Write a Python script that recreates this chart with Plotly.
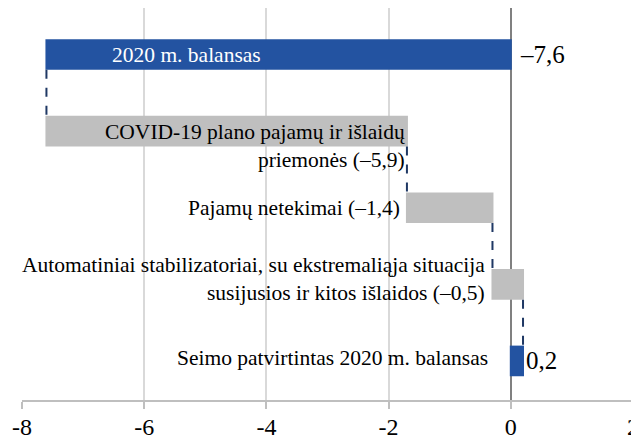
import plotly.graph_objects as go

categories = ["2020 m. balansas",
              "COVID-19 plano pajamų ir išlaidų<br>priemonės (–5,9)",
              "Pajamų netekimai (–1,4)",
              "Automatiniai stabilizatoriai, su ekstremaliąja situacija<br>susijusios ir kitos išlaidos (–0,5)",
              "Seimo patvirtintas 2020 m. balansas"]
values = [-7.6, 5.9, 1.4, 0.5, 0.2]
measures = ["absolute", "relative", "relative", "relative", "total"]
end_labels = ["–7,6", "", "", "", "0,2"]
tick_vals = [-8, -6, -4, -2, 0, 2]

BLUE = "#2353a1"
GRAY = "#bfbfbf"
FONT = "Liberation Serif, Times New Roman, serif"

pos = list(range(len(categories)))

fig = go.Figure(go.Waterfall(
    orientation="h",
    y=pos,
    x=values,
    measure=measures,
    width=0.4,
    totals=dict(marker=dict(color=BLUE)),
    increasing=dict(marker=dict(color=GRAY)),
    decreasing=dict(marker=dict(color=BLUE)),
    connector=dict(mode="between", line=dict(color="#1f3864", width=2, dash="dash")),
    hoverinfo="skip",
))

ends = []
cur = 0
for v, m in zip(values, measures):
    if m == "absolute":
        cur = v
    elif m == "relative":
        cur += v
    ends.append(cur)
starts = [0, ends[0], ends[1], ends[2], 0]

CAT_SIZE = 21.5
annots = []
annots.append(dict(x=-5.30, y=pos[0], text=categories[0], xanchor="center", yanchor="middle",
                   font=dict(color="white", size=CAT_SIZE, family=FONT)))
annots.append(dict(x=ends[1], y=pos[1], text=categories[1], xanchor="right", yanchor="middle",
                   yshift=-15, font=dict(color="black", size=CAT_SIZE, family=FONT), align="right"))
annots.append(dict(x=starts[2], y=pos[2], text=categories[2], xanchor="right", yanchor="middle",
                   xshift=-5, font=dict(color="black", size=CAT_SIZE, family=FONT), align="right"))
annots.append(dict(x=starts[3], y=pos[3], text=categories[3], xanchor="right", yanchor="middle",
                   xshift=-5, yshift=5, font=dict(color="black", size=CAT_SIZE, family=FONT), align="right"))
annots.append(dict(x=0, y=pos[4], text=categories[4], xanchor="right", yanchor="middle",
                   xshift=-21, yshift=3, font=dict(color="black", size=CAT_SIZE, family=FONT), align="right"))
annots.append(dict(x=0, y=pos[0], text=end_labels[0], xanchor="left", yanchor="middle",
                   xshift=7, font=dict(color="black", size=25, family=FONT)))
annots.append(dict(x=0.2, y=pos[4], text=end_labels[4], xanchor="left", yanchor="middle",
                   xshift=1, font=dict(color="black", size=25, family=FONT)))
for a in annots:
    a.update(xref="x", yref="y", showarrow=False)

# page body has an 8px default margin, so the figure is sized to fit the remaining window
fig.update_layout(
    width=631, height=433,
    margin=dict(l=14, r=6, t=0, b=41),
    plot_bgcolor="white", paper_bgcolor="white",
    showlegend=False,
    annotations=annots,
    xaxis=dict(range=[-8, 2], tickvals=tick_vals, ticktext=[str(t) for t in tick_vals],
               automargin=False, ticklabeloverflow="allow", ticklabelstandoff=-3,
               showgrid=True, gridcolor="#d9d9d9", gridwidth=1.5,
               zeroline=True, zerolinecolor="#808080", zerolinewidth=1.5,
               showline=True, linecolor="#bfbfbf", linewidth=1.5,
               ticks="outside", ticklen=7, tickcolor="#bfbfbf", tickwidth=1.5,
               tickfont=dict(size=24, family=FONT, color="black")),
    yaxis=dict(range=[4.51, -0.607], showticklabels=False, showgrid=False, zeroline=False,
               showline=False, automargin=False),
)

fig.write_html("out.html")
